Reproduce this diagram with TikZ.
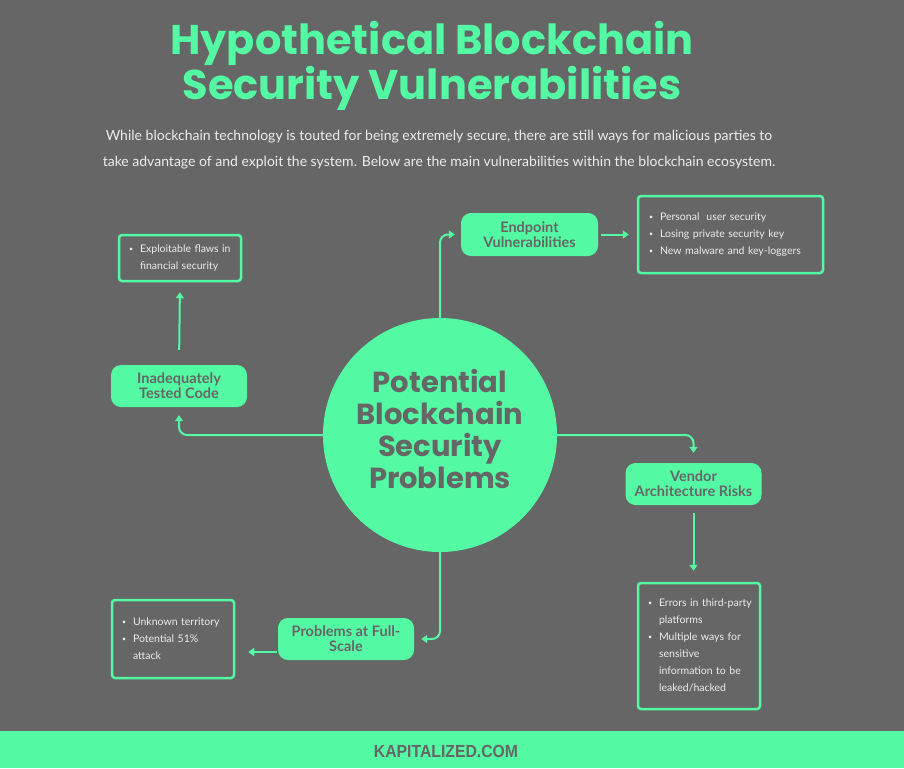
\documentclass[tikz,border=0pt]{standalone}
\usepackage{fontspec}
\setmainfont{Lato}
\newfontfamily\headfont{Poppins}
\newfontfamily\footfont{Liberation Sans}[FakeStretch=0.9]
\usetikzlibrary{arrows.meta}

\definecolor{bggray}{HTML}{666666}
\definecolor{mint}{HTML}{54F9A3}
\definecolor{paper}{HTML}{EDEDED}

\newcommand{\dotitem}{\raisebox{1pt}{\fontsize{7}{7}\selectfont\textbullet}}

\begin{document}
\begin{tikzpicture}[x=1pt, y=-1pt,
    topic/.style={fill=mint, rounded corners=10pt, text=bggray, align=center,
        font=\bfseries\fontsize{14.5}{15}\selectfont, inner sep=0pt,
        minimum width=136pt, minimum height=42pt},
    notes/.style={draw=mint, line width=2.5pt, rounded corners=3pt, text=paper,
        font=\fontsize{10.5}{17}\selectfont, align=left, inner xsep=10pt,
        inner ysep=0pt, text width=102pt, minimum width=122pt},
    link/.style={draw=mint, line width=2pt, rounded corners=8pt,
        -{Triangle[length=6pt,width=8pt]}}]
             \useasboundingbox (0,0) rectangle (904,768);
             \fill[bggray] (0,0) rectangle (904,768);

             \node[text=mint, align=center, font=\headfont\bfseries\fontsize{41.5}{45}\selectfont] (title) at (432,66)
                  {Hypothetical Blockchain\\Security Vulnerabilities};
             \node[text=paper, align=center, font=\fontsize{14}{26}\selectfont] (intro) at (439,150)
                  {While blockchain technology is touted for being extremely secure, there are still ways for malicious parties to\\
                   take advantage of and exploit the system. Below are the main vulnerabilities within the blockchain ecosystem.};

             \node[circle, fill=mint, minimum size=234pt, inner sep=0pt] (core) at (440,435) {};
             \node[text=bggray, align=center, font=\headfont\bfseries\fontsize{29}{32}\selectfont] (coretext) at (440,429)
                  {Potential\\Blockchain\\Security\\Problems};

             \node[topic, minimum width=137pt, minimum height=43pt] (endpoint) at (529.5,234.5) {Endpoint\\Vulnerabilities};
             \node[topic] (inadequate) at (179,386) {Inadequately\\Tested Code};
             \node[topic] (vendor) at (693.5,484) {Vendor\\Architecture Risks};
             \node[topic] (fullscale) at (346,639) {Problems at Full-\\Scale};

             \node[notes, text width=163pt, minimum width=185pt, minimum height=77pt, inner xsep=11pt] (endpointlist) at (730.5,234.5)
                  {\begin{tabular}{@{}l@{\hspace{7pt}}l@{}}
                   \dotitem & Personal\ \ user security\\
                   \dotitem & Losing private security key\\
                   \dotitem & New malware and key-loggers
                   \end{tabular}\\[6pt]};
             \node[notes, minimum height=46pt] (flawlist) at (180,258)
                  {\begin{tabular}{@{}l@{\hspace{7pt}}l@{}}
                   \dotitem & Exploitable flaws in\\
                           & financial security
                   \end{tabular}};
             \node[notes, minimum height=126pt] (vendorlist) at (699,646)
                  {\begin{tabular}{@{}l@{\hspace{7pt}}l@{}}
                   \dotitem & Errors in third-party\\
                           & platforms\\
                   \dotitem & Multiple ways for\\
                           & sensitive\\
                           & information to be\\
                           & leaked/hacked
                   \end{tabular}};
             \node[notes, minimum height=78pt] (scalelist) at (173,639)
                  {\begin{tabular}{@{}l@{\hspace{7pt}}l@{}}
                   \dotitem & Unknown territory\\
                   \dotitem & Potential 51\%\\
                           & attack
                   \end{tabular}};

             \draw[link, shorten >=6pt] (core.north) |- (endpoint.west);
             \draw[link, shorten >=8pt] (core.west) -| (inadequate.south);
             \draw[link, shorten >=10pt] (core.east) -| (vendor.north);
             \draw[link, shorten >=7pt] (core.south) |- (fullscale.east);

             \draw[link, shorten <=3pt, shorten >=8pt] (endpoint.east) -- (endpointlist.west);
             \draw[link, shorten <=15pt, shorten >=10pt] (inadequate.north) -- (flawlist.south);
             \draw[link, shorten <=8pt, shorten >=11pt] (vendor.south) -- (vendor.south |- vendorlist.north);
             \draw[link, shorten <=1pt, shorten >=13pt] (fullscale.west |- 0,652) -- (scalelist.east |- 0,652);

             \fill[mint] (0,731) rectangle (904,768);
             \node[text=bggray, font=\footfont\bfseries\fontsize{17.5}{18}\selectfont] (site) at (446,751) {KAPITALIZED.COM};
\end{tikzpicture}
\end{document}
